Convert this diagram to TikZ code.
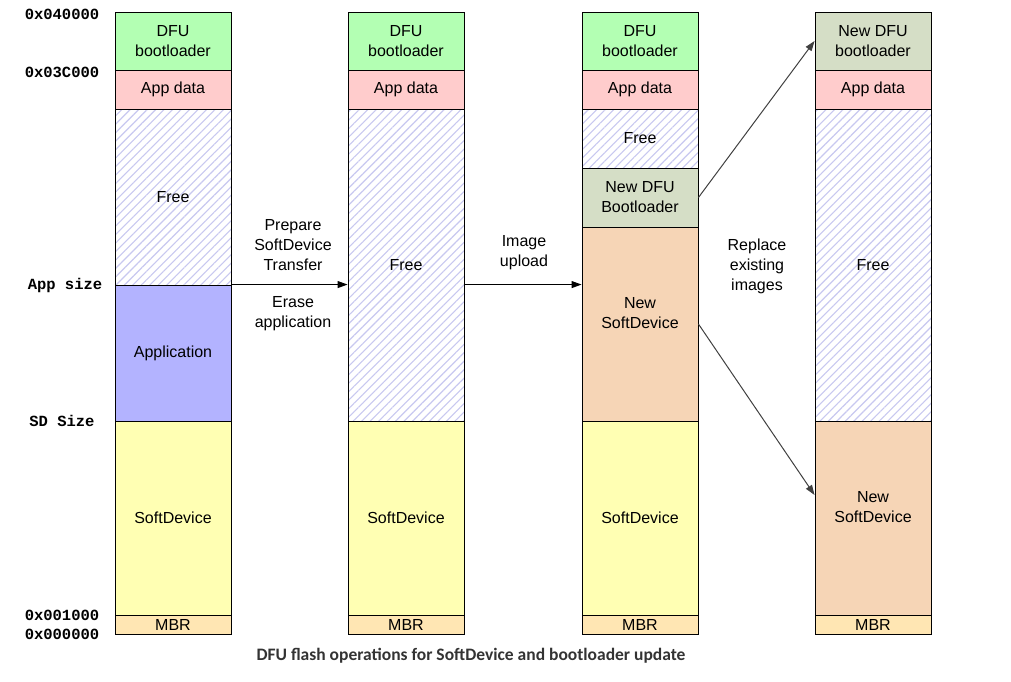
\documentclass[tikz,border=0pt]{standalone}
\usepackage{fontspec}
\setmainfont{Liberation Sans}
\newfontfamily\addrfont{Liberation Mono}
\newfontfamily\capfont{Carlito}
\usetikzlibrary{arrows.meta,patterns.meta}
\definecolor{cdfu}{HTML}{B3FFB3}
\definecolor{capp}{HTML}{FFCCCC}
\definecolor{cappl}{HTML}{B3B3FF}
\definecolor{csd}{HTML}{FFFFB3}
\definecolor{cmbr}{HTML}{FFE6B3}
\definecolor{cndfu}{HTML}{D5DEC6}
\definecolor{cnsd}{HTML}{F6D5B6}
\definecolor{chatch}{HTML}{C8C8F0}
\definecolor{cgrayarrow}{HTML}{404040}
\definecolor{ccap}{HTML}{333333}
\begin{document}
\begin{tikzpicture}[x=1pt,y=-1pt,
  blk/.style={draw=black,line width=0.9pt,inner sep=0pt,minimum width=116pt,align=center,
    font=\fontsize{16}{20}\selectfont},
  freeblk/.style={blk,preaction={fill=white},pattern={Lines[angle=45,distance=6pt,line width=1.1pt]},pattern color=chatch},
  addr/.style={font=\addrfont\bfseries\fontsize{15.5}{18}\selectfont,inner sep=0pt},
  lbl/.style={align=center,inner sep=0pt,font=\fontsize{16}{20}\selectfont},
  arr/.style={line width=0.9pt,-{Triangle[length=10pt,width=7pt]}},
  garr/.style={draw=cgrayarrow,line width=1pt,-{Triangle[length=10pt,width=7pt]},cgrayarrow}
]
\useasboundingbox (0,0) rectangle (1011,681);
% column 1
\node[blk,fill=cdfu,minimum height=58pt] (c1dfu) at (173,41) {DFU\\bootloader};
\node[blk,fill=capp,minimum height=39pt] (c1ad) at (173,89.5) {App data};
\node[freeblk,minimum height=176pt] (c1free) at (173,197) {Free};
\node[blk,fill=cappl,minimum height=136pt] (c1app) at (173,353) {Application};
\node[blk,fill=csd,minimum height=194pt] (c1sd) at (173,518) {SoftDevice};
\node[blk,fill=cmbr,minimum height=19pt] (c1mbr) at (173,624.5) {MBR};
% column 2
\node[blk,fill=cdfu,minimum height=58pt] (c2dfu) at (406,41) {DFU\\bootloader};
\node[blk,fill=capp,minimum height=39pt] (c2ad) at (406,89.5) {App data};
\node[freeblk,minimum height=312pt] (c2free) at (406,265) {Free};
\node[blk,fill=csd,minimum height=194pt] (c2sd) at (406,518) {SoftDevice};
\node[blk,fill=cmbr,minimum height=19pt] (c2mbr) at (406,624.5) {MBR};
% column 3
\node[blk,fill=cdfu,minimum height=58pt] (c3dfu) at (640,41) {DFU\\bootloader};
\node[blk,fill=capp,minimum height=39pt] (c3ad) at (640,89.5) {App data};
\node[freeblk,minimum height=59pt] (c3free) at (640,138.5) {Free};
\node[blk,fill=cndfu,minimum height=59pt] (c3ndfu) at (640,197.5) {New DFU\\Bootloader};
\node[blk,fill=cnsd,minimum height=194pt,label={[lbl,yshift=11pt]center:{New\\SoftDevice}}] (c3nsd) at (640,324) {};
\node[blk,fill=csd,minimum height=194pt] (c3sd) at (640,518) {SoftDevice};
\node[blk,fill=cmbr,minimum height=19pt] (c3mbr) at (640,624.5) {MBR};
% column 4
\node[blk,fill=cndfu,minimum height=58pt] (c4ndfu) at (873,41) {New DFU\\bootloader};
\node[blk,fill=capp,minimum height=39pt] (c4ad) at (873,89.5) {App data};
\node[freeblk,minimum height=312pt] (c4free) at (873,265) {Free};
\node[blk,fill=cnsd,minimum height=194pt,label={[lbl,yshift=11pt]center:{New\\SoftDevice}}] (c4nsd) at (873,518) {};
\node[blk,fill=cmbr,minimum height=19pt] (c4mbr) at (873,624.5) {MBR};
% addresses
\node[addr] (a1) at (62,14) {0x040000};
\node[addr] (a2) at (62,72) {0x03C000};
\node[addr] (a3) at (65,285) {App size};
\node[addr] (a4) at (62,421) {SD Size};
\node[addr] (a5) at (62,615) {0x001000};
\node[addr] (a6) at (62,634) {0x000000};
% arrows
\draw[arr] (c1app.north east) -- (c1app.north east -| c2free.west);
\draw[arr] (c2free.east |- c1app.north) -- (c3nsd.west |- c1app.north);
\draw[garr] (c3ndfu.east) -- (c4ndfu.west);
\draw[garr] (c3nsd.east) -- ([yshift=23pt]c4nsd.west);
% labels
\node[lbl] (l1) at (293,245) {Prepare\\SoftDevice\\Transfer};
\node[lbl] (l2) at (293,314) {Erase\\application};
\node[lbl] (l3) at (524,253) {Image\\upload};
\node[lbl] (l4) at (757,266) {Replace\\existing\\images};
% caption
\node[font=\capfont\bfseries\fontsize{17.5}{20}\selectfont,text=ccap,inner sep=0pt] (cap) at (471,656) {DFU flash operations for SoftDevice and bootloader update};
\end{tikzpicture}
\end{document}
